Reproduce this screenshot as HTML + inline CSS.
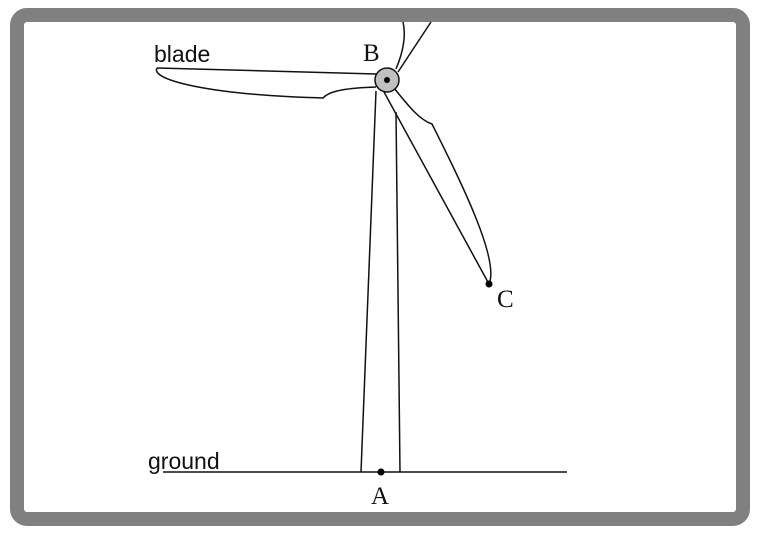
<!DOCTYPE html>
<html><head><style>
html,body{margin:0;padding:0;background:#fff;}
</style></head><body>
<svg width="760" height="538" viewBox="0 0 760 538" xmlns="http://www.w3.org/2000/svg">
<rect x="17" y="15" width="726" height="504" rx="10" fill="#fff" stroke="#808080" stroke-width="14"/>
<g fill="none" stroke="#111" stroke-width="1.5">
<line x1="163" y1="472" x2="567" y2="472"/>
<line x1="376" y1="91" x2="361" y2="472"/>
<line x1="396" y1="112" x2="400" y2="472"/>
<path d="M157 68 L376 74"/>
<path d="M157 68 C150 80 210 95 323 98 C330 90 350 88 376 87"/>
<path d="M396 69 C404 50 406 35 403 22"/>
<path d="M398 72 L431 22"/>
<path d="M384 92 L489 284"/>
<path d="M394 88 C410 108 420 120 432 124 C460 180 500 260 489 284"/>
</g>
<circle cx="387" cy="80" r="12" fill="#c0c0c0" stroke="#111" stroke-width="1.5"/>
<circle cx="387" cy="80" r="3" fill="#000"/>
<circle cx="489" cy="284" r="3.5" fill="#000"/>
<circle cx="381" cy="472" r="3.5" fill="#000"/>
<g font-family="Liberation Sans, sans-serif" font-size="23" fill="#111">
<text x="154" y="62">blade</text>
<text x="148" y="469">ground</text>
</g>
<g font-family="Liberation Serif, serif" font-size="25" fill="#111">
<text x="363" y="61">B</text>
<text x="497" y="307">C</text>
<text x="371" y="504">A</text>
</g>
</svg>
</body></html>
